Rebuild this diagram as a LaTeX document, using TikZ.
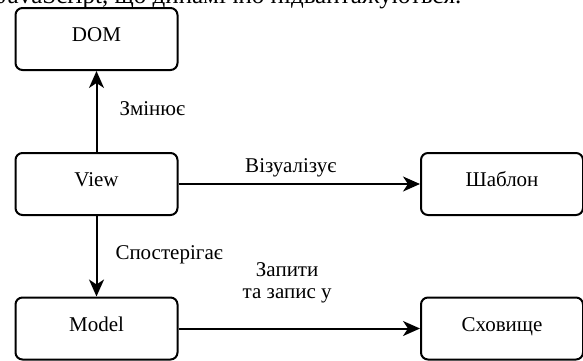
\documentclass[tikz,border=0pt]{standalone}
\usepackage{fontspec}
\setmainfont{Liberation Serif}
\usetikzlibrary{arrows.meta, positioning}
\tikzset{
  every picture/.style={line width=2pt},
  box/.style={draw, rounded corners=7pt, minimum width=162pt, minimum height=62pt, text height=14pt, text depth=9pt, font=\fontsize{21}{24}\selectfont},
  arrow/.style={-{Stealth[length=17pt, width=15pt, inset=5pt]}, line width=2pt},
  lbl/.style={inner sep=0pt, align=center, font=\fontsize{21}{22}\selectfont},
}

\begin{document}
\begin{tikzpicture}[x=1pt, y=1pt, intro/.style={anchor=base west, inner sep=0pt, font=\fontsize{25}{28}\selectfont}]
  \useasboundingbox (0,0) rectangle (583,360);
  \begin{scope}
    \clip (0,0) rectangle (583,360);
    \node[intro] (js) at (-3,357) {JavaScript, що динамічно підвантажуються.};
  \end{scope}
  \node[box] (dom) at (96.5,321) {DOM};
  \node[box] (view) at (96.5,176) {View};
  \node[box] (model) at (96.5,31.5) {Model};
  \node[box] (tmpl) at (502,176) {Шаблон};
  \node[box] (store) at (502,31.5) {Сховище};
  \draw[arrow] (view) -- node[lbl, pos=0.54, right=22pt] {Змінює} (dom);
  \draw[arrow] (view) -- node[lbl, pos=0.48, right=18pt] {Спостерігає} (model);
  \draw[arrow] (view) -- node[lbl, pos=0.465, above=6pt] {Візуалізує} (tmpl);
  \draw[arrow] (model) -- node[lbl, pos=0.45, above=24pt] {Запити\\та запис у} (store);
\end{tikzpicture}
\end{document}
